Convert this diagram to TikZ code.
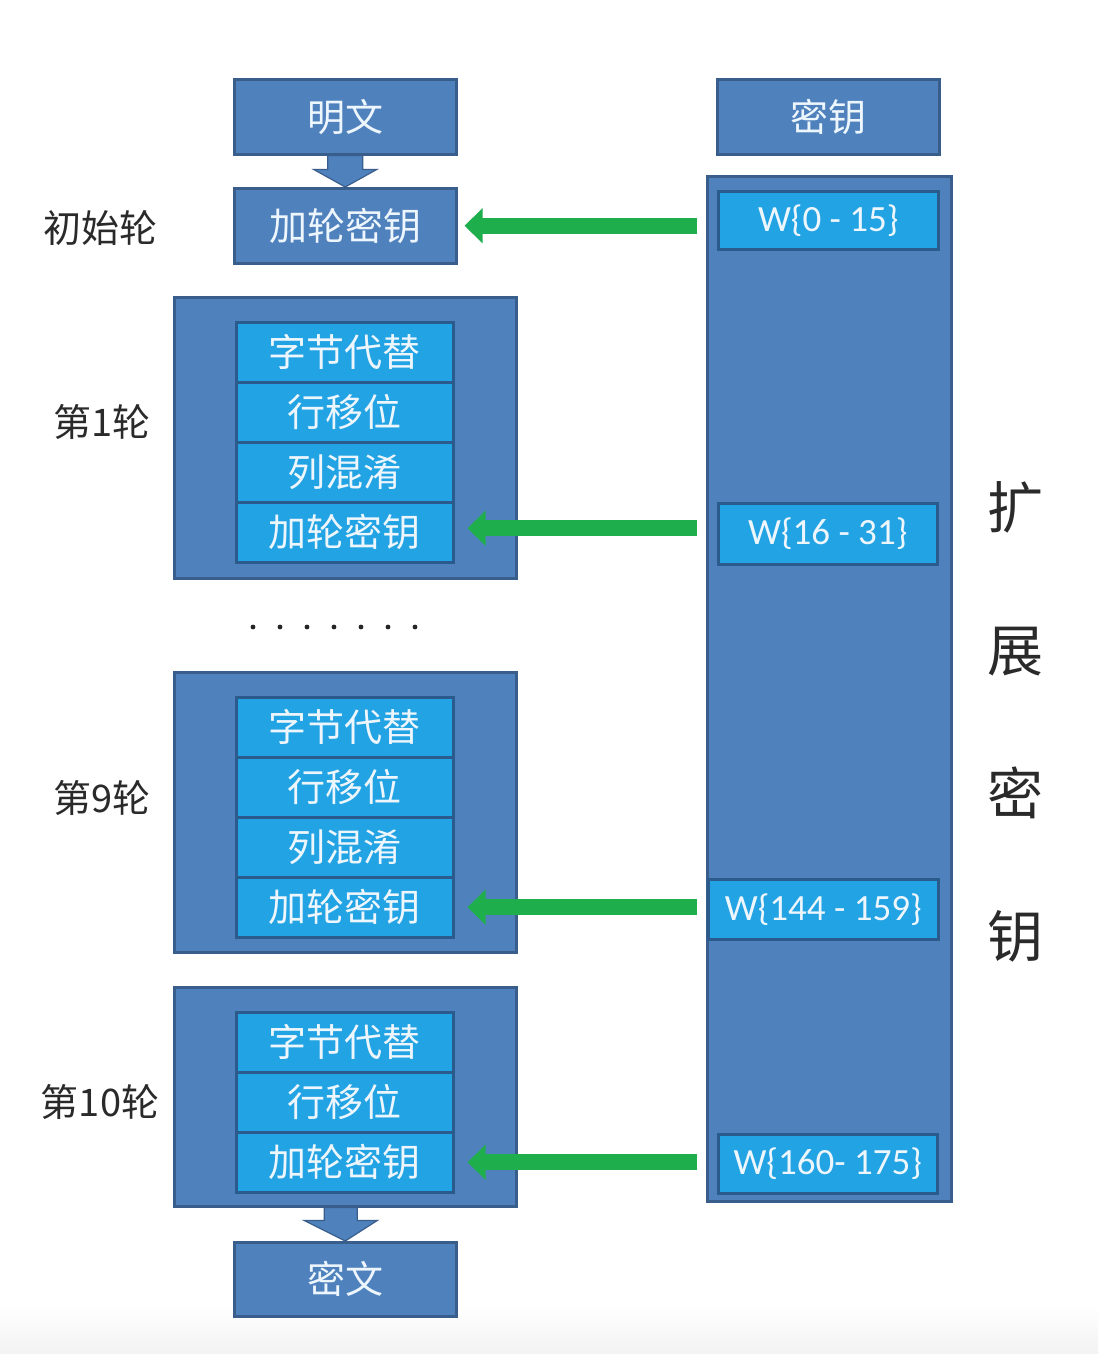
\documentclass[tikz,border=0pt]{standalone}
\usepackage{fontspec}
\setmainfont{Carlito}
\newfontfamily\cjk{Noto Sans CJK SC}
\usetikzlibrary{arrows.meta,calc}
\definecolor{boxblue}{HTML}{4F81BD}
\definecolor{boxedge}{HTML}{3A5E8C}
\definecolor{rowblue}{HTML}{22A3E3}
\definecolor{rowedge}{HTML}{2B5A8C}
\definecolor{keygreen}{HTML}{1EAF4C}
\definecolor{boxtext}{HTML}{EEF6FD}
\definecolor{labeltext}{HTML}{2A2A2A}

\begin{document}
\begin{tikzpicture}[x=1pt,y=-1pt,
  cn/.style={font=\cjk\fontsize{38}{40}\selectfont},
  blk/.style={cn, anchor=north west, inner sep=0pt, fill=boxblue, draw=boxedge,
    line width=2.5pt, text=boxtext},
  roundbox/.style={anchor=north west, inner sep=0pt, fill=boxblue, draw=boxedge,
    line width=2.5pt, minimum width=342pt},
  rowbox/.style={cn, anchor=north west, inner sep=0pt, fill=rowblue, draw=rowedge,
    line width=2.5pt, text=boxtext, minimum width=217pt, minimum height=60pt},
  wbox/.style={anchor=north west, inner sep=0pt, fill=rowblue, draw=rowedge,
    line width=2.5pt, text=boxtext, font=\fontsize{37}{40}\selectfont},
  sidelabel/.style={cn, text=labeltext},
  greenarrow/.style={draw=keygreen, line width=16pt,
    -{Triangle[width=34pt,length=18pt]}, shorten <=9pt},
  blockarrow/.style={fill=boxblue, draw=boxedge, line width=1.2pt, line join=miter}
]
\useasboundingbox (0,0) rectangle (1098,1354);
\fill[white] (0,0) rectangle (1098,1354);
\shade[top color=white, bottom color=black!5] (0,1305) rectangle (1098,1354);

% plaintext, key and the initial round
\node[blk, minimum width=222pt, minimum height=75pt] (pt) at (233,78) {明文};
\node[blk, minimum width=222pt, minimum height=75pt] (key) at (716,78) {密钥};
\node[blk, minimum width=222pt, minimum height=75pt] (init) at (233,187) {加轮密钥};

% expanded key column with its word groups
\node[roundbox, minimum width=244pt, minimum height=1025pt] (keycol) at (706,175) {};
\node[wbox, minimum width=220pt, minimum height=58pt] (w0) at (717,190) {W\{0 - 15\}};
\node[wbox, minimum width=219pt, minimum height=61pt] (w1) at (717,502) {W\{16 - 31\}};
\node[wbox, minimum width=230pt, minimum height=60pt] (w9) at (707,878) {W\{144 - 159\}};
\node[wbox, minimum width=219pt, minimum height=59pt] (w10) at (717,1133) {W\{160- 175\}};

% round 1
\node[roundbox, minimum height=281pt] (r1) at (173,296) {};
\node[rowbox] (r1a) at (235,321) {字节代替};
\node[rowbox] (r1b) at (235,381) {行移位};
\node[rowbox] (r1c) at (235,441) {列混淆};
\node[rowbox] (r1d) at (235,501) {加轮密钥};

% elided rounds
\foreach \k in {0,...,6}
  \fill[black!85] (253+27*\k,627) circle (2.4pt);

% round 9
\node[roundbox, minimum height=280pt] (r9) at (173,671) {};
\node[rowbox] (r9a) at (235,696) {字节代替};
\node[rowbox] (r9b) at (235,756) {行移位};
\node[rowbox] (r9c) at (235,816) {列混淆};
\node[rowbox] (r9d) at (235,876) {加轮密钥};

% round 10 (no column mixing)
\node[roundbox, minimum height=219pt] (r10) at (173,986) {};
\node[rowbox] (r10a) at (235,1011) {字节代替};
\node[rowbox] (r10b) at (235,1071) {行移位};
\node[rowbox] (r10c) at (235,1131) {加轮密钥};

% ciphertext
\node[blk, minimum width=222pt, minimum height=74pt] (ct) at (233,1241) {密文};

% round labels
\node[sidelabel] (l0) at (100,228) {初始轮};
\node[sidelabel] (l1) at (102,422) {第1轮};
\node[sidelabel] (l9) at (102,798) {第9轮};
\node[sidelabel] (l10) at (100,1102) {第10轮};

% vertical caption of the key column
\node[font=\cjk\fontsize{56}{143}\selectfont, text=labeltext, align=center, inner sep=0pt]
  (ext) at (1015,722) {扩\\展\\密\\钥};

% block arrows: plaintext -> initial round, round 10 -> ciphertext
\path[blockarrow]
  ($(pt.south)+(-17.5,0)$) -- ($(pt.south)+(17.5,0)$) -- ($(pt.south)+(17.5,14)$)
  -- ($(pt.south)+(31.5,14)$) -- (init.north) -- ($(pt.south)+(-31.5,14)$)
  -- ($(pt.south)+(-17.5,14)$) -- cycle;
\path[blockarrow]
  ($(r10.south)+(-171,0)+(150,0)$) -- ($(r10.south)+(-171,0)+(183,0)$)
  -- ($(r10.south)+(-171,0)+(183,13)$) -- ($(r10.south)+(-171,0)+(203,13)$)
  -- (ct.north) -- ($(r10.south)+(-171,0)+(130,13)$)
  -- ($(r10.south)+(-171,0)+(150,13)$) -- cycle;

% round keys fed from the expanded key
\draw[greenarrow, shorten >=7pt] (keycol.west |- init.east) -- (init.east);
\draw[greenarrow, shorten >=13pt] ($(keycol.west |- r1d.east)+(0,-4)$) -- ($(r1d.east)+(0,-4)$);
\draw[greenarrow, shorten >=13pt] (keycol.west |- r9d.east) -- (r9d.east);
\draw[greenarrow, shorten >=13pt] (keycol.west |- r10c.east) -- (r10c.east);
\end{tikzpicture}
\end{document}
